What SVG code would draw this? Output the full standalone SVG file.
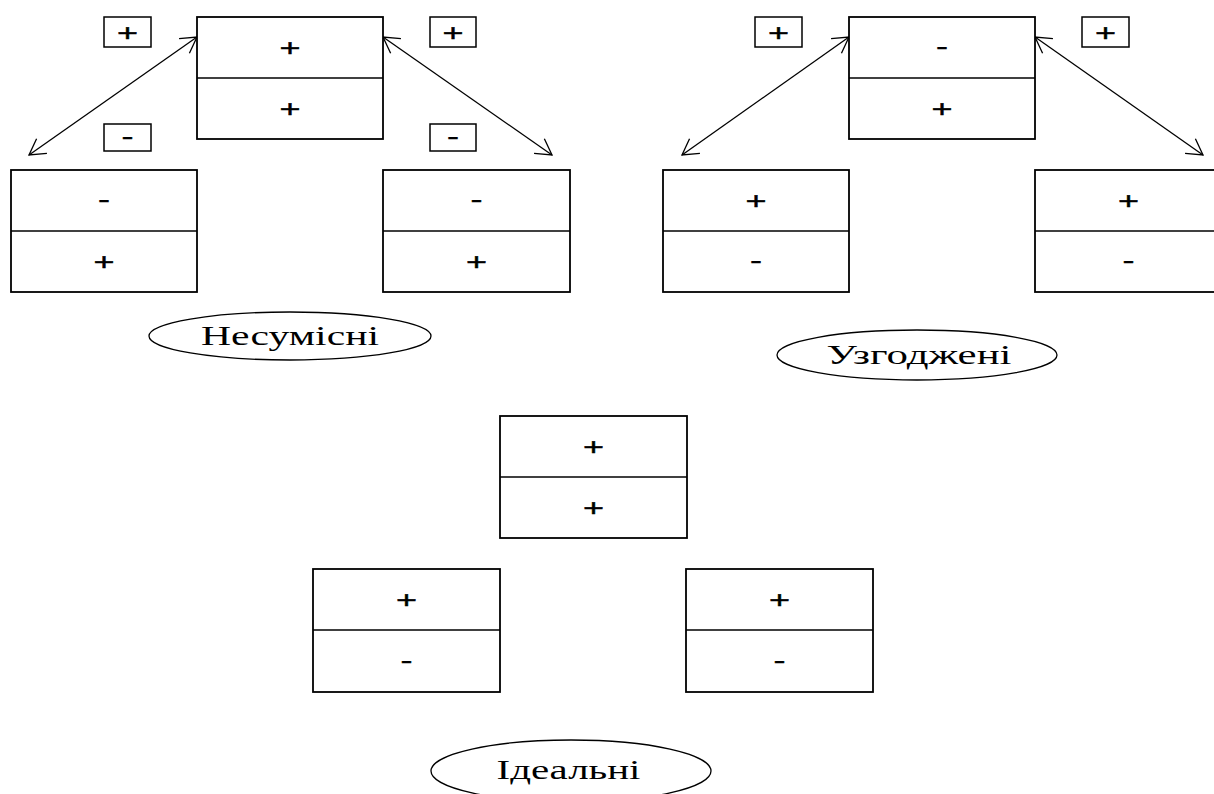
<svg xmlns="http://www.w3.org/2000/svg" width="1214" height="794" viewBox="0 0 1214 794">
<style>
.box{fill:#fff;stroke:#000;stroke-width:1.8}
.div{stroke:#000;stroke-width:1.5}
.sm{fill:#fff;stroke:#000;stroke-width:1.5}
.sg{font-family:"Liberation Sans",Arial,sans-serif;font-size:24px;text-anchor:middle;fill:#000;stroke:#000;stroke-width:0.4}
.lbl{font-family:"Liberation Serif","Times New Roman",serif;font-size:28px;text-anchor:middle;fill:#000}
.ell{fill:#fff;stroke:#000;stroke-width:1.3}
.con{stroke:#000;stroke-width:1.3;fill:none;marker-start:url(#ah);marker-end:url(#ah)}
</style>
<defs>
<marker id="ah" viewBox="-20 -12 24 24" refX="0" refY="0" markerWidth="24" markerHeight="24" markerUnits="userSpaceOnUse" orient="auto-start-reverse">
<path d="M-15.6,-9 L0,0 L-15.6,9" fill="none" stroke="#000" stroke-width="1.3"/>
</marker>
</defs>
<rect width="1214" height="794" fill="#fff"/>

<g id="connectors">
<line class="con" x1="197" y1="37" x2="29" y2="155"/>
<line class="con" x1="383" y1="37" x2="552" y2="155"/>
<line class="con" x1="849" y1="37" x2="682" y2="155"/>
<line class="con" x1="1035" y1="37" x2="1203" y2="155"/>
</g>

<g id="a-top">
<rect class="box" x="197" y="17" width="186" height="122"/>
<line class="div" x1="197" y1="78" x2="383" y2="78"/>
<text class="sg" transform="translate(290,55.9) scale(1.5,1)">+</text>
<text class="sg" transform="translate(290,116.9) scale(1.5,1)">+</text>
</g>
<g id="a-left">
<rect class="box" x="11" y="170" width="186" height="122"/>
<line class="div" x1="11" y1="231" x2="197" y2="231"/>
<text class="sg" transform="translate(104,207.1) scale(1.5,1)">-</text>
<text class="sg" transform="translate(104,269.9) scale(1.5,1)">+</text>
</g>
<g id="a-right">
<rect class="box" x="383" y="170" width="187" height="122"/>
<line class="div" x1="383" y1="231" x2="570" y2="231"/>
<text class="sg" transform="translate(476.5,207.1) scale(1.5,1)">-</text>
<text class="sg" transform="translate(476.5,269.9) scale(1.5,1)">+</text>
</g>
<g id="a-s1">
<rect class="sm" x="104" y="17" width="47" height="30"/>
<text class="sg" transform="translate(127.5,40.9) scale(1.5,1)">+</text>
</g>
<g id="a-s2">
<rect class="sm" x="104" y="124" width="47" height="27"/>
<text class="sg" transform="translate(127.5,144.1) scale(1.5,1)">-</text>
</g>
<g id="a-s3">
<rect class="sm" x="430" y="17" width="46" height="30"/>
<text class="sg" transform="translate(453,40.9) scale(1.5,1)">+</text>
</g>
<g id="a-s4">
<rect class="sm" x="430" y="124" width="46" height="27"/>
<text class="sg" transform="translate(453,144.1) scale(1.5,1)">-</text>
</g>
<g id="a-label">
<ellipse class="ell" cx="290" cy="336" rx="141" ry="24"/>
<text class="lbl" x="290" y="345" textLength="178" lengthAdjust="spacingAndGlyphs">Несумісні</text>
</g>

<g id="b-top">
<rect class="box" x="849" y="17" width="186" height="122"/>
<line class="div" x1="849" y1="78" x2="1035" y2="78"/>
<text class="sg" transform="translate(942,54.1) scale(1.5,1)">-</text>
<text class="sg" transform="translate(942,116.9) scale(1.5,1)">+</text>
</g>
<g id="b-left">
<rect class="box" x="663" y="170" width="186" height="122"/>
<line class="div" x1="663" y1="231" x2="849" y2="231"/>
<text class="sg" transform="translate(756,208.9) scale(1.5,1)">+</text>
<text class="sg" transform="translate(756,268.1) scale(1.5,1)">-</text>
</g>
<g id="b-right">
<rect class="box" x="1035" y="170" width="186" height="122"/>
<line class="div" x1="1035" y1="231" x2="1221" y2="231"/>
<text class="sg" transform="translate(1128.5,208.9) scale(1.5,1)">+</text>
<text class="sg" transform="translate(1128.5,268.1) scale(1.5,1)">-</text>
</g>
<g id="b-s1">
<rect class="sm" x="755" y="17" width="47" height="30"/>
<text class="sg" transform="translate(778.5,40.9) scale(1.5,1)">+</text>
</g>
<g id="b-s2">
<rect class="sm" x="1082" y="17" width="47" height="30"/>
<text class="sg" transform="translate(1105.5,40.9) scale(1.5,1)">+</text>
</g>
<g id="b-label">
<ellipse class="ell" cx="917" cy="355" rx="140" ry="25"/>
<text class="lbl" x="919" y="364" textLength="185" lengthAdjust="spacingAndGlyphs">Узгоджені</text>
</g>

<g id="c-top">
<rect class="box" x="500" y="416" width="187" height="122"/>
<line class="div" x1="500" y1="477" x2="687" y2="477"/>
<text class="sg" transform="translate(593.5,455.4) scale(1.5,1)">+</text>
<text class="sg" transform="translate(593.5,516.4) scale(1.5,1)">+</text>
</g>
<g id="c-left">
<rect class="box" x="313" y="569" width="187" height="123"/>
<line class="div" x1="313" y1="630" x2="500" y2="630"/>
<text class="sg" transform="translate(406.5,608.4) scale(1.5,1)">+</text>
<text class="sg" transform="translate(406.5,667.6) scale(1.5,1)">-</text>
</g>
<g id="c-right">
<rect class="box" x="686" y="569" width="187" height="123"/>
<line class="div" x1="686" y1="630" x2="873" y2="630"/>
<text class="sg" transform="translate(779.5,608.4) scale(1.5,1)">+</text>
<text class="sg" transform="translate(779.5,667.6) scale(1.5,1)">-</text>
</g>
<g id="c-label">
<ellipse class="ell" cx="571" cy="771" rx="140" ry="31"/>
<text class="lbl" x="568.5" y="779" textLength="144" lengthAdjust="spacingAndGlyphs">Ідеальні</text>
</g>
</svg>
